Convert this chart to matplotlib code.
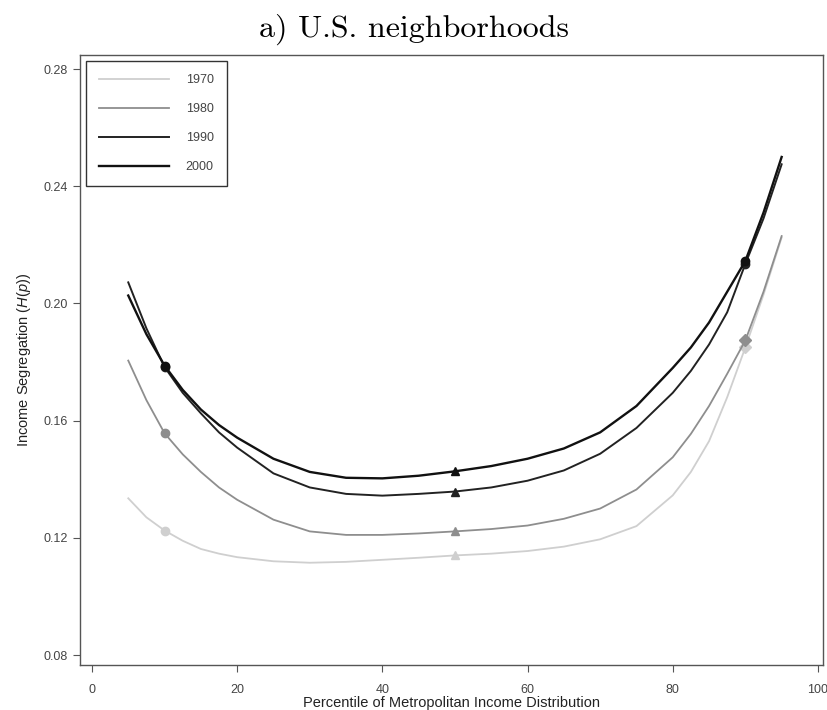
import matplotlib.pyplot as plt

# percentile grid and H(p) values
pct = [5, 7.5, 10, 12.5, 15, 17.5, 20, 25, 30, 35, 40, 45, 50, 55, 60,
       65, 70, 75, 80, 82.5, 85, 87.5, 90, 92.5, 95]

h1970 = [0.1335, 0.1270, 0.1225, 0.1190, 0.1162, 0.1146, 0.1134, 0.1120,
         0.1115, 0.1118, 0.1125, 0.1132, 0.1140, 0.1146, 0.1155, 0.1170,
         0.1195, 0.1240, 0.1345, 0.1425, 0.1530, 0.1680, 0.1850, 0.2030,
         0.2225]
h1980 = [0.1805, 0.1670, 0.1557, 0.1485, 0.1425, 0.1372, 0.1330, 0.1262,
         0.1222, 0.1210, 0.1210, 0.1215, 0.1222, 0.1230, 0.1242, 0.1265,
         0.1300, 0.1365, 0.1475, 0.1555, 0.1650, 0.1760, 0.1874, 0.2040,
         0.2230]
h1990 = [0.2072, 0.1915, 0.1783, 0.1695, 0.1625, 0.1560, 0.1508, 0.1420,
         0.1372, 0.1350, 0.1344, 0.1350, 0.1358, 0.1372, 0.1395, 0.1430,
         0.1487, 0.1575, 0.1695, 0.1770, 0.1860, 0.1970, 0.2135, 0.2290,
         0.2475]
h2000 = [0.2027, 0.1895, 0.1788, 0.1705, 0.1638, 0.1585, 0.1542, 0.1470,
         0.1425, 0.1405, 0.1403, 0.1412, 0.1427, 0.1445, 0.1470, 0.1505,
         0.1560, 0.1650, 0.1780, 0.1850, 0.1935, 0.2040, 0.2145, 0.2310,
         0.2500]

years = ["1970", "1980", "1990", "2000"]
series = [h1970, h1980, h1990, h2000]
colors = ["#cfcfcf", "#8e8e8e", "#222222", "#111111"]
widths = [1.3, 1.3, 1.4, 1.7]
end_marker = ["D", "D", "o", "o"]

marked = [pct.index(10), pct.index(50), pct.index(90)]

plt.rcParams["mathtext.fontset"] = "custom"
plt.rcParams["mathtext.it"] = "Liberation Sans:italic"
plt.rcParams["mathtext.rm"] = "Liberation Sans"

fig = plt.figure(figsize=(8.28, 7.10), dpi=100)
ax = fig.add_axes([0.0966, 0.0634, 0.8974, 0.8591])

for yr, h, c, lw, mk in zip(years, series, colors, widths, end_marker):
    ax.plot(pct, h, color=c, lw=lw, label=yr)
    # markers at the 10th, 50th and 90th percentiles
    for i, m in zip(marked, ["o", "^", mk]):
        ax.plot(pct[i], h[i], marker=m, color=c, ms=6, ls="none")

ax.set_xlim(-1.65, 100.7)
ax.set_ylim(0.0766, 0.2848)
ax.set_xticks([0, 20, 40, 60, 80, 100])
ax.set_yticks([0.08, 0.12, 0.16, 0.20, 0.24, 0.28])
ax.set_yticklabels(["0.08", "0.12", "0.16", "0.20", "0.24", "0.28"])

for lab in ax.get_xticklabels() + ax.get_yticklabels():
    lab.set_fontfamily("Liberation Sans")
    lab.set_fontsize(9)
    lab.set_color("#444444")
ax.tick_params(direction="out", length=5, width=0.8, color="#555555", pad=4)
ax.tick_params(axis="x", pad=9)
for s in ax.spines.values():
    s.set_color("#555555")
    s.set_linewidth(1.0)

ax.set_ylabel(r"Income Segregation ($\mathit{H(p)}$)", family="Liberation Sans",
              size=10.5, color="#222222", labelpad=7)
ax.set_xlabel("Percentile of Metropolitan Income Distribution",
              family="Liberation Sans", size=10.5, color="#222222", labelpad=0)

fig.text(0.5, 0.958, "a) U.S. neighborhoods", family="cmr10", size=23,
         ha="center", va="center")

leg = ax.legend(loc="upper left", bbox_to_anchor=(0.0, 1.0), borderaxespad=0.5,
                prop=dict(family="Liberation Sans", size=9), handlelength=5.6,
                labelspacing=1.35, borderpad=1.05, handletextpad=1.3,
                fancybox=False, framealpha=1)
leg.get_frame().set_edgecolor("#333333")
leg.get_frame().set_linewidth(1.0)
for t in leg.get_texts():
    t.set_color("#444444")

fig.savefig("out.png", dpi=100)
